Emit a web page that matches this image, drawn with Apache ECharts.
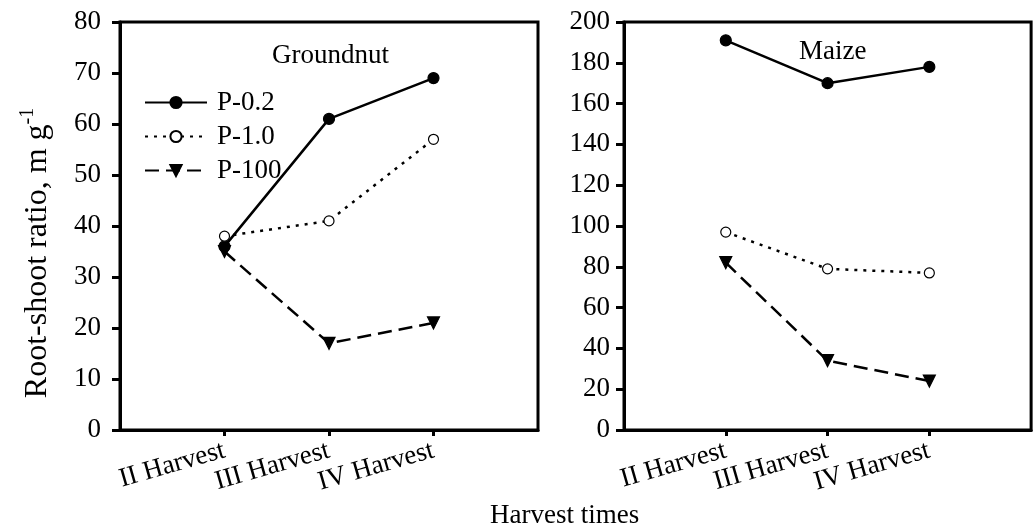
<!DOCTYPE html>
<html>
<head>
<meta charset="utf-8">
<script src="https://cdn.jsdelivr.net/npm/echarts@6/dist/echarts.min.js"></script>
<style>
  html, body { margin: 0; padding: 0; background: #fff; }
  #main { width: 1034px; height: 529px; }
</style>
</head>
<body>
<div id="main"></div>
<script>
// 收获时期
var harvests = ['II Harvest', 'III Harvest', 'IV Harvest'];
var seriesNames = ['P-0.2', 'P-1.0', 'P-100'];

// Groundnut 根冠比
var groundP02 = [36, 61, 69];
var groundP10 = [38, 41, 57];
var groundP100 = [35, 17, 21];

// Maize 根冠比
var maizeP02 = [191, 170, 178];
var maizeP10 = [97, 79, 77];
var maizeP100 = [82, 34, 24];

var groundTicks = [0, 10, 20, 30, 40, 50, 60, 70, 80];
var maizeTicks = [0, 20, 40, 60, 80, 100, 120, 140, 160, 180, 200];

var font = "'Liberation Serif', 'Times New Roman', serif";
var fs = 27;

// 左右两边都留一个空类目，让三个收获期落在中间
var cats = [''].concat(harvests).concat(['']);
function pts(arr) {
    return arr.map(function (v, i) { return [i + 1, v]; });
}

var myChart = echarts.init(document.getElementById('main'));

function xAxisOf(idx) {
    return {
        type: 'category',
        gridIndex: idx,
        data: cats,
        boundaryGap: false,
        axisLine: { lineStyle: { color: '#000', width: 3 } },
        axisTick: {
            length: 6,
            lineStyle: { color: '#000', width: 3 },
            interval: function (index, value) { return value !== ''; }
        },
        axisLabel: {
            interval: 0,
            rotate: 16,
            margin: 20,
            color: '#000',
            fontFamily: font,
            fontSize: fs
        },
        splitLine: { show: false }
    };
}

function yAxisOf(idx, ticks, margin) {
    return {
        type: 'value',
        gridIndex: idx,
        min: ticks[0],
        max: ticks[ticks.length - 1],
        interval: ticks[1] - ticks[0],
        axisLine: { show: true, lineStyle: { color: '#000', width: 3 } },
        axisTick: { show: true, length: 8, lineStyle: { color: '#000', width: 3 } },
        axisLabel: { margin: margin, color: '#000', fontFamily: font, fontSize: fs },
        splitLine: { show: false }
    };
}

var styles = [
    { fill: '#000', symbolSize: 11, lineType: 'solid', width: 2.5 },
    { fill: '#fff', symbolSize: 10, lineType: [3, 6], width: 2.5 },
    { fill: '#000', symbolSize: 12, symbol: 'triangle', rotate: 180, lineType: [14, 7], width: 2.5 }
];

function makeSeries(name, data, gi, st) {
    return {
        name: name,
        type: 'line',
        xAxisIndex: gi,
        yAxisIndex: gi,
        data: pts(data),
        symbol: st.symbol || 'circle',
        symbolSize: st.symbolSize,
        symbolRotate: st.rotate || 0,
        showAllSymbol: true,
        lineStyle: { color: '#000', width: st.width, type: st.lineType },
        itemStyle: { color: st.fill, borderColor: '#000', borderWidth: 1.2 },
        emphasis: { disabled: true },
        z: 3
    };
}

var option = {
    backgroundColor: '#fff',
    animation: false,
    grid: [
        { left: 120, top: 22, width: 418, height: 408, show: true, borderColor: '#000', borderWidth: 3 },
        { left: 624, top: 22, width: 418, height: 408, show: true, borderColor: '#000', borderWidth: 3 }
    ],
    xAxis: [xAxisOf(0), xAxisOf(1)],
    yAxis: [yAxisOf(0, groundTicks, 19), yAxisOf(1, maizeTicks, 14)],
    legend: {
        orient: 'vertical',
        left: 139,
        top: 84,
        itemWidth: 62,
        itemHeight: 14,
        itemGap: 7,
        data: seriesNames,
        textStyle: { color: '#000', fontFamily: font, fontSize: fs, lineHeight: 25, padding: [0, 0, 0, 5] },
        selectedMode: false
    },
    series: [
        makeSeries(seriesNames[0], groundP02, 0, styles[0]),
        makeSeries(seriesNames[1], groundP10, 0, styles[1]),
        makeSeries(seriesNames[2], groundP100, 0, styles[2]),
        makeSeries(seriesNames[0], maizeP02, 1, styles[0]),
        makeSeries(seriesNames[1], maizeP10, 1, styles[1]),
        makeSeries(seriesNames[2], maizeP100, 1, styles[2])
    ],
    graphic: [
        {
            type: 'text', left: 272, top: 42,
            style: { text: 'Groundnut', fill: '#000', font: fs + 'px ' + font }
        },
        {
            type: 'text', left: 799, top: 38,
            style: { text: 'Maize', fill: '#000', font: fs + 'px ' + font }
        },
        {
            type: 'text', left: 490, top: 502,
            style: { text: 'Harvest times', fill: '#000', font: fs + 'px ' + font }
        },
        {
            type: 'text',
            x: 36, y: 253,
            rotation: Math.PI / 2,
            style: {
                text: '{a|Root-shoot ratio, m g}{b|-1}',
                align: 'center',
                verticalAlign: 'middle',
                fill: '#000',
                rich: {
                    a: { fontFamily: font, fontSize: 32, lineHeight: 36, verticalAlign: 'bottom' },
                    b: { fontFamily: font, fontSize: 20, lineHeight: 36, verticalAlign: 'top' }
                }
            }
        }
    ]
};

myChart.setOption(option);
</script>
</body>
</html>
